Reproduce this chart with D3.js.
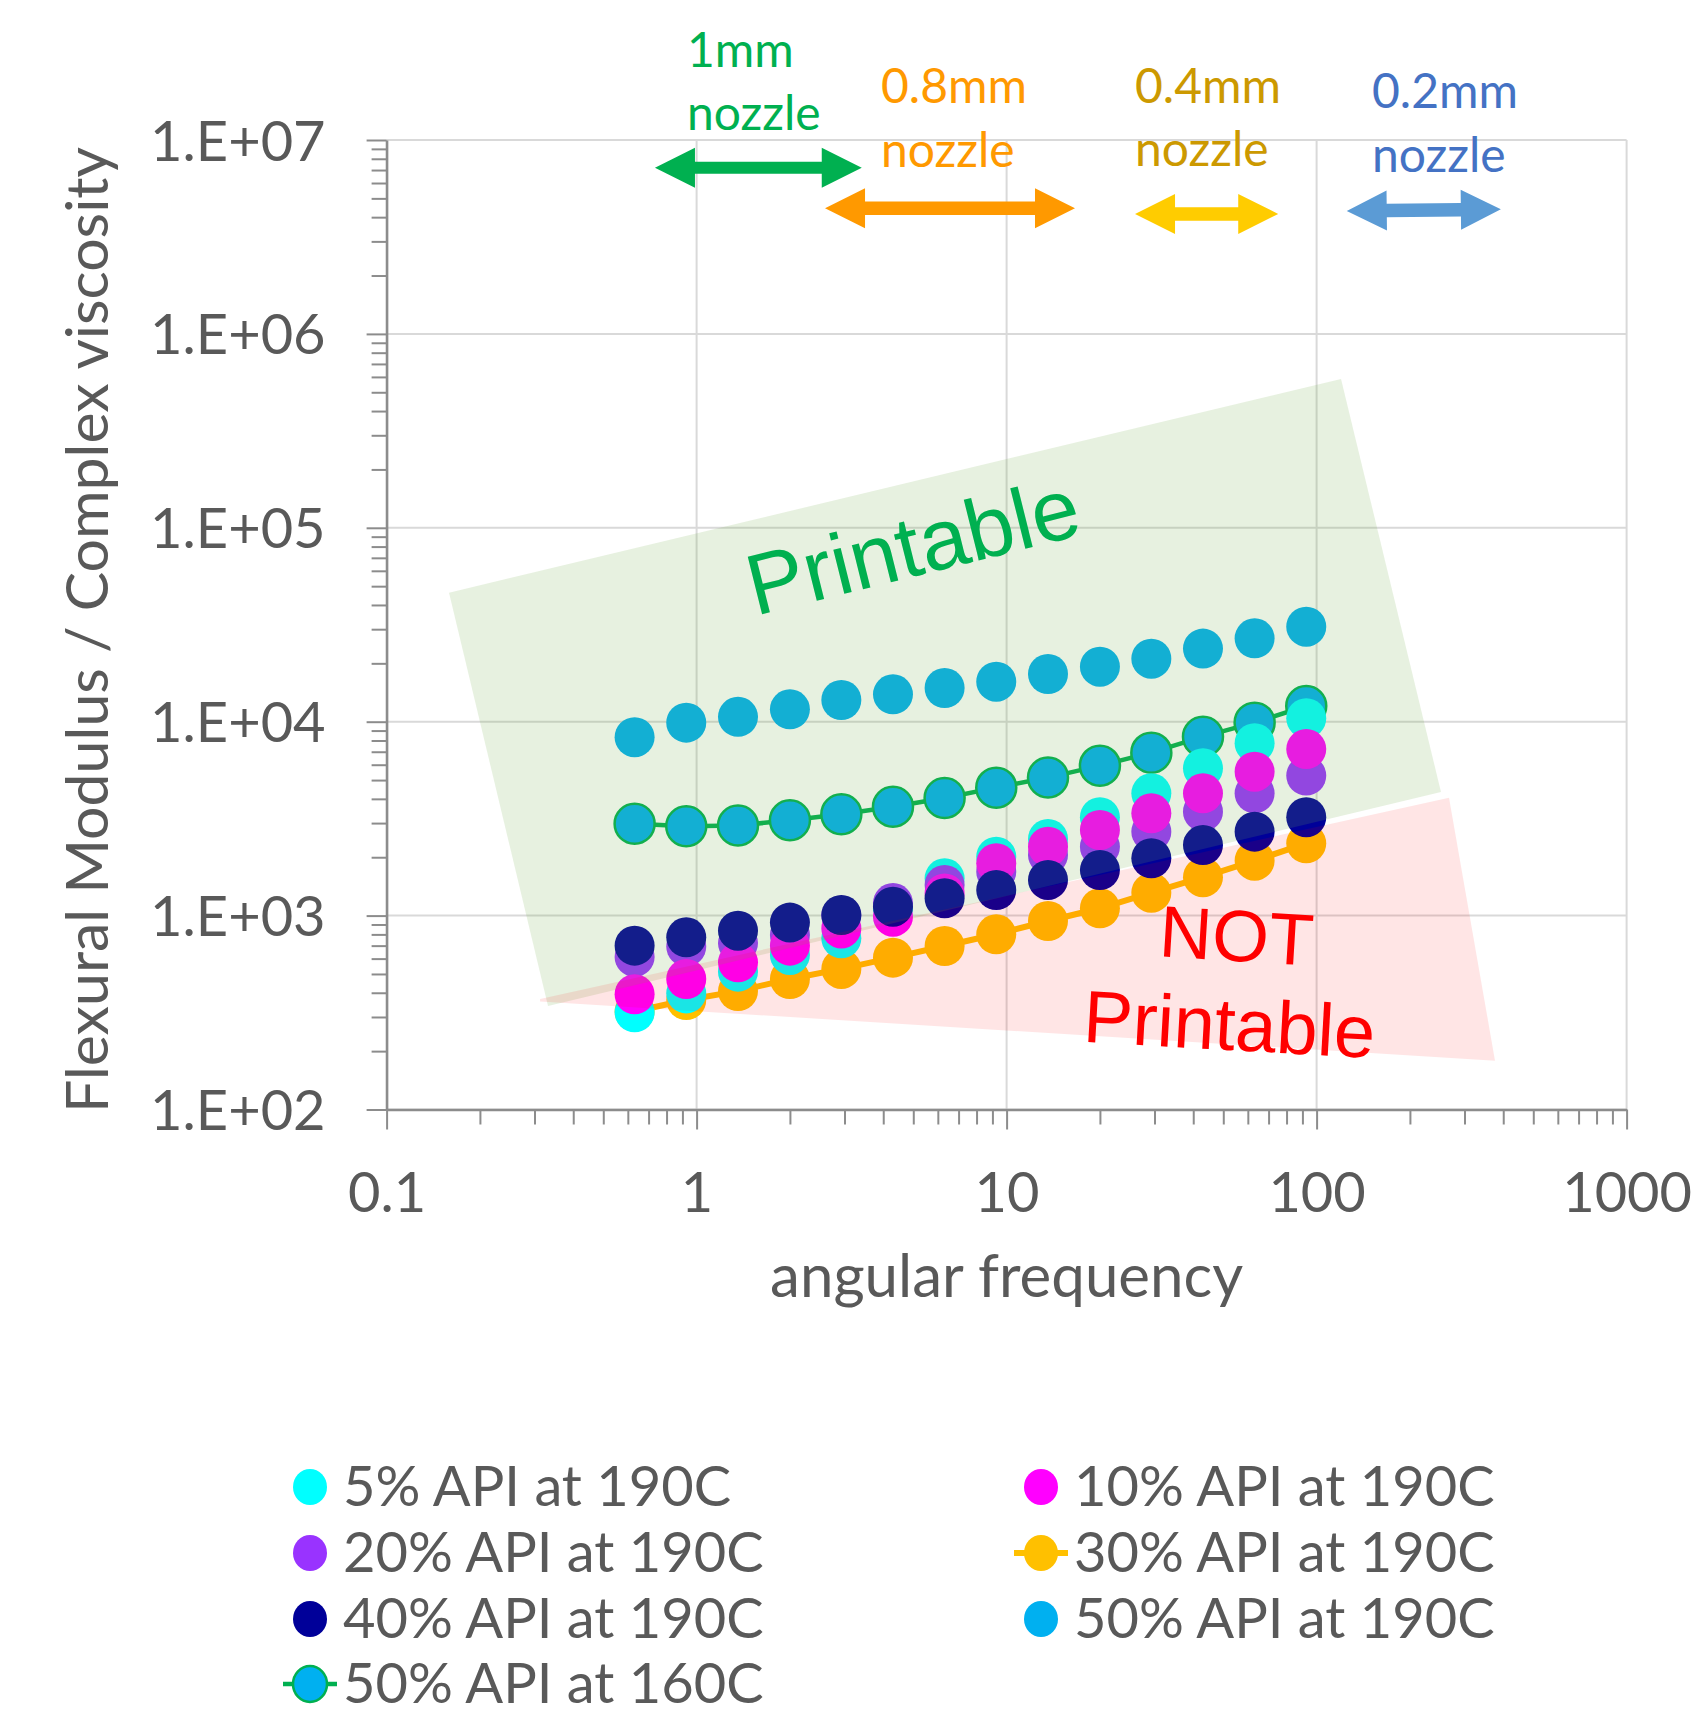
<!DOCTYPE html>
<html><head><meta charset="utf-8">
<script src="https://cdn.jsdelivr.net/npm/d3@7"></script>
<style>body{margin:0;background:#fff;overflow:hidden} svg{display:block}</style>
</head><body>
<script>
// ---------------- data ----------------
const freq = [0.631, 0.926, 1.36, 2.0, 2.93, 4.3, 6.31, 9.26, 13.6, 20.0, 29.3, 43.0, 63.1, 92.6];
const api5_190  = [317, 397, 514, 627, 764, 1090, 1557, 2014, 2483, 3215, 4272, 5754, 7745, 10420];
const api10_190 = [393, 471, 574, 700, 859, 987, 1300, 1862, 2265, 2763, 3371, 4272, 5521, 7228];
const api20_190 = [612, 692, 722, 794, 1000, 1160, 1438, 1684, 2055, 2265, 2710, 3435, 4272, 5272];
const api30_190 = [320, 367, 408, 471, 531, 607, 697, 801, 938, 1091, 1312, 1578, 1919, 2360];
const api40_190 = [700, 773, 836, 920, 1007, 1112, 1228, 1355, 1527, 1718, 1976, 2312, 2710, 3215];
const api50_190 = [8318, 9890, 10600, 11590, 12940, 13840, 14920, 16080, 17620, 19220, 21140, 23820, 26920, 30900];
const api50_160 = [2979, 2890, 2912, 3105, 3330, 3642, 4043, 4570, 5150, 5935, 6925, 8370, 9890, 12050];

const seriesNames = ["5% API at 190C", "10% API at 190C", "20% API at 190C", "30% API at 190C",
                     "40% API at 190C", "50% API at 190C", "50% API at 160C"];
const xTickValues = [0.1, 1, 10, 100, 1000];
const xTickLabels = ["0.1", "1", "10", "100", "1000"];
const yTickValues = [1e2, 1e3, 1e4, 1e5, 1e6, 1e7];
const yTickLabels = ["1.E+02", "1.E+03", "1.E+04", "1.E+05", "1.E+06", "1.E+07"];
const xTitle = "angular frequency";
const yTitle = "Flexural Modulus / Complex viscosity";

// annotation regions (in data coordinates: [frequency, value])
const printableRegion    = [[0.159, 46280], [119.9, 585500], [251.9, 4339], [0.3317, 341.9]];
const notPrintableRegion = [[0.3126, 371.5], [267.4, 4055], [376.3, 178.5], [0.3126, 360.6]];
// nozzle arrows: [from freq, to freq, value at left, value at right]
const nozzleNames  = ["1mm", "0.8mm", "0.4mm", "0.2mm"];
const nozzleArrows = [[0.734, 3.41, 7.19e6, 7.19e6], [2.596, 16.62, 4.444e6, 4.444e6],
                      [25.96, 75.2, 4.154e6, 4.154e6], [125.1, 393, 4.303e6, 4.39e6]];

// ---------------- styles ----------------
const W = 1698, H = 1716;
const FONT = "Lato, 'Open Sans', sans-serif";
const ARIAL = "'Liberation Sans', Arial, sans-serif";
const textGrey = "#595959";
const seriesFill = ["#00ffff", "#ff00ff", "#9933ff", "#ffc000", "#000099", "#00b0f0", "#00b0f0"];
const seriesStroke = [null, null, null, null, null, null, "#00b050"];
const seriesLine = [null, null, null, "#ffc000", null, null, "#00b050"];
const drawOrder = [6, 3, 0, 2, 1, 4, 5];
const nozzleTextColor = ["#00b050", "#ff9900", "#cc9900", "#4472c4"];
const nozzleArrowColor = ["#00b050", "#ff9900", "#ffcc00", "#5b9bd5"];
const nozzleTextPos = [[687, 67, 130], [881, 102.6, 166.5], [1135, 102.6, 165.7], [1372, 108.3, 171.5]];

const svg = d3.select("body").append("svg").attr("width", W).attr("height", H)
  .style("font-family", FONT);

const x = d3.scaleLog().domain([0.1, 1000]).range([386.6, 1626.6]);
const y = d3.scaleLog().domain([100, 1e7]).range([1109.5, 140]);

// minor ticks
const xMinor = [], yMinor = [];
[0.1, 1, 10, 100].forEach(d => { for (let k = 2; k <= 9; k++) xMinor.push(d * k); });
[1e2, 1e3, 1e4, 1e5, 1e6].forEach(d => { for (let k = 2; k <= 9; k++) yMinor.push(d * k); });

// gridlines
const grid = svg.append("g").attr("stroke", "#d9d9d9").attr("stroke-width", 2);
yTickValues.forEach(v => grid.append("line").attr("x1", x(0.1)).attr("x2", x(1000)).attr("y1", y(v)).attr("y2", y(v)));
xTickValues.forEach(v => grid.append("line").attr("y1", y(1e7)).attr("y2", y(100)).attr("x1", x(v)).attr("x2", x(v)));

// series
const allSeries = [api5_190, api10_190, api20_190, api30_190, api40_190, api50_190, api50_160];
const gSeries = svg.append("g");
drawOrder.forEach(i => {
  const vals = allSeries[i];
  const pts = freq.map((f, j) => [f, vals[j]]);
  const g = gSeries.append("g");
  if (seriesLine[i]) {
    g.append("path").attr("d", d3.line().x(d => x(d[0])).y(d => y(d[1]))(pts))
      .attr("fill", "none").attr("stroke", seriesLine[i]).attr("stroke-width", i === 3 ? 6 : 4.5);
  }
  g.selectAll("circle").data(pts).join("circle")
    .attr("cx", d => x(d[0])).attr("cy", d => y(d[1])).attr("r", 20)
    .attr("fill", seriesFill[i])
    .attr("stroke", seriesStroke[i] || "none").attr("stroke-width", 2.5);
});

// regions overlay
const regionLine = d3.line().x(d => x(d[0])).y(d => y(d[1])).curve(d3.curveLinearClosed);
svg.append("path").attr("d", regionLine(printableRegion)).attr("fill", "#70ad47").attr("fill-opacity", 0.17);
svg.append("path").attr("d", regionLine(notPrintableRegion)).attr("fill", "#ff0000").attr("fill-opacity", 0.1);

// axes
const axG = svg.append("g");
const yAxis = axG.append("g").attr("transform", `translate(${x(0.1)},0)`)
  .call(d3.axisLeft(y).tickValues(yTickValues).tickSize(20).tickSizeOuter(0).tickPadding(41)
        .tickFormat((d, i) => yTickLabels[i]));
axG.append("g").attr("transform", `translate(${x(0.1)},0)`)
  .call(d3.axisLeft(y).tickValues(yMinor).tickSize(15).tickSizeOuter(0).tickFormat(""))
  .select(".domain").remove();
const xAxis = axG.append("g").attr("transform", `translate(0,${y(100)})`)
  .call(d3.axisBottom(x).tickValues(xTickValues).tickSize(20).tickSizeOuter(0)
        .tickFormat((d, i) => xTickLabels[i]));
axG.append("g").attr("transform", `translate(0,${y(100)})`)
  .call(d3.axisBottom(x).tickValues(xMinor).tickSize(15).tickSizeOuter(0).tickFormat(""))
  .select(".domain").remove();
axG.selectAll("path.domain").attr("stroke", "#8c8c8c").attr("stroke-width", 2.5);
axG.selectAll(".tick line").attr("stroke", "#8c8c8c").attr("stroke-width", 2);
yAxis.selectAll("text").attr("font-size", 56).attr("font-family", FONT).attr("fill", textGrey)
  .attr("dy", null).attr("y", 20);
xAxis.selectAll("text").attr("font-size", 56).attr("font-family", FONT).attr("fill", textGrey)
  .attr("dy", null).attr("y", 102);

// axis titles
svg.append("text").attr("x", x(10)).attr("y", 1296.7).attr("text-anchor", "middle")
  .attr("font-size", 60).attr("fill", textGrey).text(xTitle);
svg.append("text").attr("transform", "translate(108,630) rotate(-90)").attr("text-anchor", "middle")
  .attr("font-size", 59).attr("fill", textGrey).text(yTitle);

// region labels
svg.append("text").attr("transform", "translate(920,575) rotate(-14)").attr("text-anchor", "middle")
  .attr("font-family", ARIAL).attr("font-size", 86).attr("fill", "#00b050").text("Printable");
svg.append("text").attr("transform", "translate(1235,961) rotate(3.5)").attr("text-anchor", "middle")
  .attr("font-family", ARIAL).attr("font-size", 73).attr("fill", "#ff0000").text("NOT");
svg.append("text").attr("transform", "translate(1228,1050) rotate(3.2)").attr("text-anchor", "middle")
  .attr("font-family", ARIAL).attr("font-size", 74).attr("fill", "#ff0000").text("Printable");

// nozzle arrows
function arrowPath(x1, y1, x2, y2, hl, hh, st) {
  const len = Math.hypot(x2 - x1, y2 - y1);
  const ang = Math.atan2(y2 - y1, x2 - x1) * 180 / Math.PI;
  const p = [[0, 0], [hl, -hh], [hl, -st], [len - hl, -st], [len - hl, -hh], [len, 0],
             [len - hl, hh], [len - hl, st], [hl, st], [hl, hh]];
  return {d: "M" + p.map(q => q.join(",")).join("L") + "Z", t: `translate(${x1},${y1}) rotate(${ang})`};
}
nozzleArrows.forEach((a, i) => {
  const ap = arrowPath(x(a[0]), y(a[2]), x(a[1]), y(a[3]), 40, 20, i === 0 ? 6 : 6.8);
  svg.append("path").attr("d", ap.d).attr("transform", ap.t).attr("fill", nozzleArrowColor[i]);
  const tp = nozzleTextPos[i];
  svg.append("text").attr("x", tp[0]).attr("y", tp[1]).attr("font-size", 48)
    .attr("fill", nozzleTextColor[i]).text(nozzleNames[i]);
  svg.append("text").attr("x", tp[0]).attr("y", tp[2]).attr("font-size", 48)
    .attr("fill", nozzleTextColor[i]).text("nozzle");
});

// legend (2 columns, row-major)
const legColX = [310, 1041], legRowY = [1487, 1553, 1619, 1684];
seriesNames.forEach((name, i) => {
  const cx = legColX[i % 2], cy = legRowY[Math.floor(i / 2)];
  const g = svg.append("g");
  if (seriesLine[i]) {
    g.append("line").attr("x1", cx - 27).attr("x2", cx + 27).attr("y1", cy).attr("y2", cy)
      .attr("stroke", seriesLine[i]).attr("stroke-width", i === 3 ? 6 : 4.5);
  }
  g.append("ellipse").attr("cx", cx).attr("cy", cy).attr("rx", 17).attr("ry", 18)
    .attr("fill", seriesFill[i]).attr("stroke", seriesStroke[i] || "none").attr("stroke-width", 2.5);
  g.append("text").attr("x", cx + 33).attr("y", cy + 19).attr("font-size", 56)
    .attr("fill", textGrey).text(name);
});
</script>
</body></html>
